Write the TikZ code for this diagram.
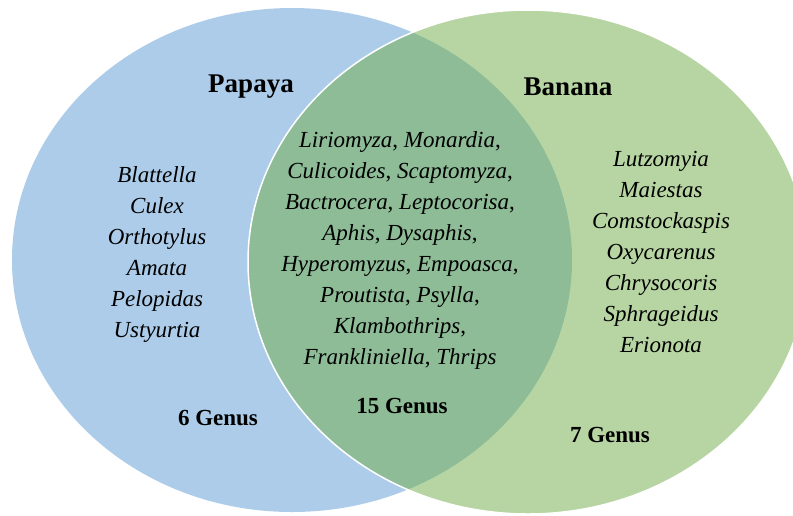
\documentclass[tikz,border=0pt]{standalone}
\usepackage{fontspec}
\setmainfont{Liberation Serif}
\usepackage{xcolor,tikz}
\definecolor{papayablue}{HTML}{5B9BD5}
\definecolor{bananagreen}{HTML}{70AD47}

\begin{document}
\begin{tikzpicture}[
    x=1pt,
    y=-1pt,
    set/.style={
        draw=white,
        line width=1.5pt,
        fill opacity=0.5
    },
    title/.style={
        anchor=base,
        inner sep=0pt,
        font=\fontsize{27}{31}\selectfont\bfseries
    },
    genera/.style={
        anchor=base,
        inner sep=0pt,
        align=center,
        font=\fontsize{23}{31}\selectfont\itshape
    },
    count/.style={
        anchor=base,
        inner sep=0pt,
        font=\fontsize{23}{31}\selectfont\bfseries
    }
]

\fill[white] (0,0) rectangle (793,515);
\useasboundingbox (0,0) rectangle (793,515);
\clip (0,0) rectangle (793,515);

% the two sets
\fill[papayablue,fill opacity=0.5] (292,260) ellipse [x radius=280, y radius=252];
\filldraw[set,fill=bananagreen] (528,262) ellipse [x radius=280, y radius=252];

\node[title] (papaya) at (251,92) {Papaya};
\node[title] (banana) at (568,95) {Banana};

% lists (anchored at the baseline of their last line)
\node[genera] (leftlist) at (157,337)
{Blattella\\Culex\\Orthotylus\\Amata\\Pelopidas\\Ustyurtia};

\node[genera] (midlist) at (400,364)
{Liriomyza\upshape, \itshape Monardia\upshape,\\
Culicoides\upshape, \itshape Scaptomyza\upshape,\\
Bactrocera\upshape, \itshape Leptocorisa\upshape,\\
Aphis\upshape, \itshape Dysaphis\upshape,\\
Hyperomyzus\upshape, \itshape Empoasca\upshape,\\
Proutista\upshape, \itshape Psylla\upshape,\\
Klambothrips\upshape,\\
Frankliniella\upshape, \itshape Thrips};

\node[genera] (rightlist) at (661,352)
{Lutzomyia\\Maiestas\\Comstockaspis\\Oxycarenus\\Chrysocoris\\Sphrageidus\\Erionota};

\node[count] (leftcount) at (218,425) {6 Genus};
\node[count] (midcount) at (402,413) {15 Genus};
\node[count] (rightcount) at (610,442) {7 Genus};

\end{tikzpicture}
\end{document}
